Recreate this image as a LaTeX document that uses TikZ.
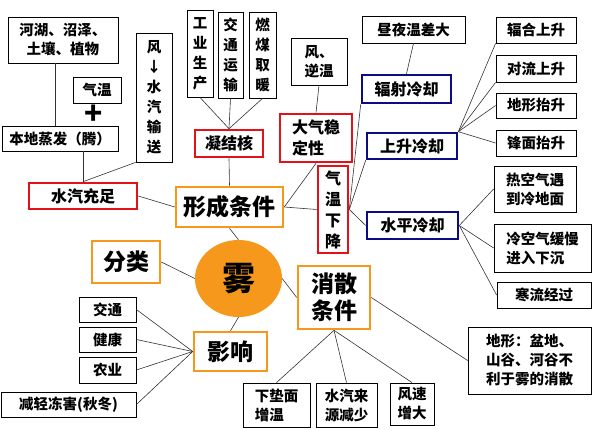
\documentclass[tikz,border=0pt]{standalone}
\usepackage{fontspec}
\setmainfont{Noto Sans CJK SC}
\usetikzlibrary{shapes.geometric}
\definecolor{fogorange}{RGB}{246,152,28}
\definecolor{boxred}{RGB}{226,18,24}
\definecolor{boxblue}{RGB}{12,12,128}

\begin{document}
\begin{tikzpicture}[x=1pt, y=-1pt,
        leaf/.style={draw, line width=0.8pt, inner sep=1pt, align=center,
            font=\fontsize{14.5}{19}\selectfont\bfseries},
        vleaf/.style={leaf, font=\fontsize{14.5}{20}\selectfont\bfseries},
        redbox/.style={leaf, draw=boxred, line width=2.6pt,
            font=\fontsize{16}{21}\selectfont\bfseries},
        bluebox/.style={leaf, draw=boxblue, line width=2.6pt,
            font=\fontsize{16}{20}\selectfont\bfseries},
        mainbox/.style={leaf, draw=fogorange, line width=2.6pt,
            font=\fontsize{23}{27}\selectfont\bfseries},
        link/.style={line width=0.6pt, black!80}]

    \useasboundingbox (0,0) rectangle (594,430);

    % Centre
    \node[ellipse, fill=fogorange, minimum width=87, minimum height=77,
        font=\fontsize{33}{33}\selectfont\bfseries] (fog) at (238.5,278.5) {雾};

    % Formation: water vapour
    \node[leaf, minimum width=110, minimum height=46] (lake) at (63,40) {河湖、沼泽、\\土壤、植物};
    \node[leaf, minimum width=48, minimum height=26] (temp) at (97,90) {气温};
    \node[font=\fontsize{30}{30}\selectfont\bfseries, inner sep=0pt] (plus) at (94,115) {+};
    \node[leaf, minimum width=116, minimum height=25] (evap) at (60,138.5) {本地蒸发（腾）};
    \node[vleaf, minimum width=36, minimum height=129] (wind) at (154,97.5) {风\\↓\\水\\汽\\输\\送};
    \node[redbox, minimum width=108, minimum height=26] (vapor) at (83,196) {水汽充足};

    % Formation: condensation nuclei
    \node[vleaf, minimum width=26, minimum height=87] (ind) at (200,53.5) {工\\业\\生\\产};
    \node[vleaf, minimum width=25, minimum height=86] (traf) at (230.5,55) {交\\通\\运\\输};
    \node[vleaf, minimum width=27, minimum height=86] (coal) at (262.5,55) {燃\\煤\\取\\暖};
    \node[redbox, minimum width=68, minimum height=27] (nuclei) at (229,143.5) {凝结核};

    % Formation: stability and cooling
    \node[leaf, align=left, minimum width=56, minimum height=47] (windinv) at (319,61.5) {风、\\逆温};
    \node[redbox, align=left, minimum width=72, minimum height=48] (stab) at (316,138) {大气稳\\定性};
    \node[redbox, minimum width=30, minimum height=87] (drop) at (333,209.5) {气\\温\\下\\降};
    \node[mainbox, minimum width=107, minimum height=40] (form) at (229.5,207) {形成条件};

    \node[leaf, minimum width=103, minimum height=27] (diurnal) at (413.5,29.5) {昼夜温差大};
    \node[bluebox, minimum width=89, minimum height=28] (rad) at (406.5,89) {辐射冷却};
    \node[bluebox, minimum width=90, minimum height=26] (lift) at (412,146) {上升冷却};
    \node[bluebox, minimum width=91, minimum height=27] (horiz) at (412.5,225.5) {水平冷却};

    \node[leaf, minimum width=80, minimum height=26] (conv1) at (536,30) {辐合上升};
    \node[leaf, minimum width=80, minimum height=27] (conv2) at (536,68.5) {对流上升};
    \node[leaf, minimum width=80, minimum height=25] (oro) at (536,105.5) {地形抬升};
    \node[leaf, minimum width=80, minimum height=26] (front) at (536,143) {锋面抬升};
    \node[leaf, align=left, minimum width=82, minimum height=46] (warm) at (535,189) {热空气遇\\到冷地面};
    \node[leaf, align=left, minimum width=97, minimum height=48] (cold) at (542.5,248) {冷空气缓慢\\进入下沉};
    \node[leaf, minimum width=94, minimum height=26] (current) at (544,295) {寒流经过};

    % Classification and impact
    \node[mainbox, minimum width=68, minimum height=42] (class) at (126,262) {分类};
    \node[mainbox, minimum width=73, minimum height=39] (impact) at (230.5,351.5) {影响};
    \node[leaf, minimum width=57, minimum height=25] (traffic) at (107.5,309.5) {交通};
    \node[leaf, minimum width=57, minimum height=25] (health) at (107.5,339.5) {健康};
    \node[leaf, minimum width=57, minimum height=26] (agri) at (107.5,370) {农业};
    \node[leaf, minimum width=135, minimum height=25] (frost) at (68.5,404.5) {减轻冻害(秋冬)};

    % Dissipation
    \node[mainbox, minimum width=72, minimum height=63] (dissip) at (334,297.5) {消散\\条件};
    \node[leaf, align=left, minimum width=67, minimum height=44] (surf) at (276.5,405) {下垫面\\增温};
    \node[leaf, align=left, minimum width=61, minimum height=44] (vapless) at (346.5,405) {水汽来\\源减少};
    \node[leaf, align=left, minimum width=44, minimum height=42] (windup) at (412,404) {风速\\增大};
    \node[leaf, align=left, minimum width=123, minimum height=67] (terrain) at (529.5,360.5) {地形：盆地、\\山谷、河谷不\\利于雾的消散};

    % Connectors
    \draw[link] ([xshift=-8pt]lake.south) -- ([xshift=-8pt]lake.south |- evap.north);
    \draw[link] (vapor.north |- evap.south) -- (vapor.north);
    \draw[link] (wind.south west) -- (vapor.north);
    \draw[link] (vapor.east) -- (form.west);

    \foreach \src in {ind, traf, coal}
        \draw[link] (\src.south) -- (nuclei.north);
    \draw[link] (nuclei.south) -- (form.north);
    \draw[link] (windinv.south) -- (stab.north);
    \draw[link] (stab.south) -- (form.east);
    \draw[link] (form.east) -- (drop.west);
    \draw[link] (form.south) -- (fog.north);

    \draw[link] (diurnal.south) -- (rad.north);
    \draw[link] (drop.east) -- (rad.south west);
    \draw[link] (drop.east) -- (lift.south west);
    \draw[link] (drop.east) -- (horiz.west);

    \draw[link] (lift.north east) -- (conv1.south west);
    \draw[link] (lift.north east) -- (conv2.south west);
    \draw[link] (lift.north east) -- (oro.west);
    \draw[link] (lift.north east) -- (front.west);
    \foreach \dst in {warm, cold, current}
        \draw[link] (horiz.east) -- (\dst.west);

    \draw[link] (class.east) -- (fog.west);
    \draw[link] (fog.south) -- (impact.north);
    \foreach \dst in {traffic, health, agri, frost}
        \draw[link] (impact.west) -- (\dst.east);

    \draw[link] (fog.east) -- (dissip.west);
    \foreach \dst in {surf, vapless, windup}
        \draw[link] (dissip.south) -- (\dst.north);
    \draw[link] (dissip.east) -- (terrain.west);

\end{tikzpicture}
\end{document}
